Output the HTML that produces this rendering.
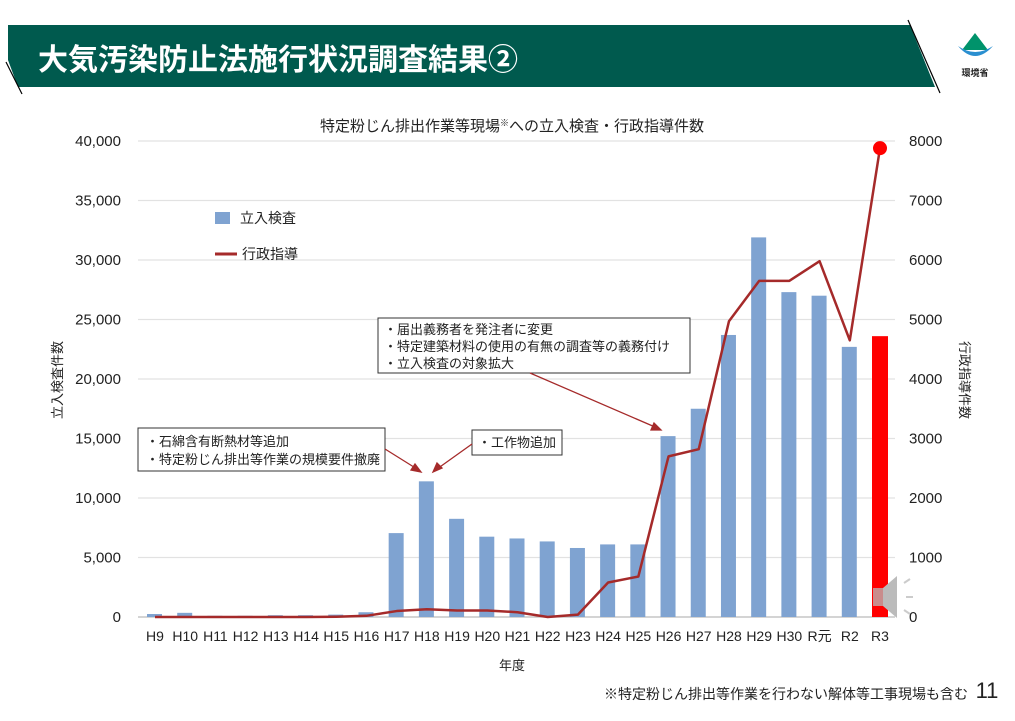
<!DOCTYPE html>
<html><head><meta charset="utf-8">
<style>
body{margin:0;width:1015px;height:716px;background:#fff;overflow:hidden;font-family:"Liberation Sans","Noto Sans CJK JP",sans-serif;}
svg text{font-family:"Liberation Sans","Noto Sans CJK JP",sans-serif;}
</style></head><body>
<svg width="1015" height="716" viewBox="0 0 1015 716">
<g>
<polygon points="8,25 910,25 935,87 18,87 8,60" fill="#005a4e"/>
<line x1="908" y1="20" x2="940" y2="93" stroke="#000" stroke-width="1.2"/>
<line x1="6" y1="62" x2="22" y2="94" stroke="#000" stroke-width="1.2"/>
<text x="38" y="70" font-size="30" font-weight="bold" fill="#fff">大気汚染防止法施行状況調査結果②</text>
</g>
<g>
<polygon points="975,33 988,50 962,50" fill="#00936b"/>
<path d="M958,46 Q975,58 993,46 Q975,66 958,46Z" fill="#2a8fd0"/>
<text x="975" y="76" font-size="9" font-weight="bold" text-anchor="middle" fill="#222">環境省</text>
</g>
<text x="512" y="131" font-size="15" text-anchor="middle" fill="#222">特定粉じん排出作業等現場<tspan font-size="9" dy="-5">※</tspan><tspan dy="5">への立入検査・行政指導件数</tspan></text>
<g id="grid"></g>
<g id="bars"></g>
<g id="line"></g>
<g id="axes"></g>
<text transform="translate(62,380) rotate(-90)" font-size="13" text-anchor="middle" fill="#222">立入検査件数</text>
<text transform="translate(960,380) rotate(90)" font-size="13" text-anchor="middle" fill="#222">行政指導件数</text>
<text x="512" y="670" font-size="13" text-anchor="middle" fill="#222">年度</text>
<g>
<rect x="215" y="212" width="15" height="12" fill="#7fa3d1"/>
<text x="240" y="223" font-size="14" fill="#222">立入検査</text>
<line x1="215" y1="254" x2="237" y2="254" stroke="#a52a2a" stroke-width="3"/>
<text x="242" y="259" font-size="14" fill="#222">行政指導</text>
</g>
<g font-size="13" fill="#222">
<rect x="138" y="428" width="247" height="43" fill="#fff" stroke="#333"/>
<text x="146" y="446">・石綿含有断熱材等追加</text>
<text x="146" y="464">・特定粉じん排出等作業の規模要件撤廃</text>
<rect x="472" y="430" width="90" height="25" fill="#fff" stroke="#333"/>
<text x="478" y="447">・工作物追加</text>
<rect x="378" y="318" width="312" height="55" fill="#fff" stroke="#333"/>
<text x="384" y="334">・届出義務者を発注者に変更</text>
<text x="384" y="351">・特定建築材料の使用の有無の調査等の義務付け</text>
<text x="384" y="368">・立入検査の対象拡大</text>
<g stroke="#a52a2a" stroke-width="1.3" fill="#a52a2a">
<line x1="385" y1="449" x2="417" y2="469"/><polygon points="421,472 411,470 415,464"/>
<line x1="472" y1="444" x2="437" y2="469"/><polygon points="433,472 437,463 442,468"/>
<line x1="530" y1="373" x2="655" y2="427"/><polygon points="661,430 651,430 654,423"/>
</g>
</g>
<g>
<rect x="873" y="588" width="10" height="18" fill="#c98c8c"/>
<polygon points="883,588 897,576 897,618 883,606" fill="#bbb"/>
<path d="M904,583 l6,-4 M906,597 l7,0 M904,610 l6,4" stroke="#ccc" stroke-width="2"/>
</g>
<text x="968" y="699" font-size="14" text-anchor="end" fill="#222">※特定粉じん排出等作業を行わない解体等工事現場も含む</text>
<text x="987" y="698" font-size="22" text-anchor="middle" fill="#222">11</text>
</svg>
<script>
const categories=["H9","H10","H11","H12","H13","H14","H15","H16","H17","H18","H19","H20","H21","H22","H23","H24","H25","H26","H27","H28","H29","H30","R元","R2","R3"];
const inspections=[250,350,100,100,150,150,200,400,7050,11400,8250,6750,6600,6350,5800,6100,6100,15200,17500,23700,31900,27300,27000,22700,23600];
const guidance=[0,0,0,0,0,0,5,20,100,130,110,110,80,0,40,580,680,2700,2820,4970,5650,5650,5980,4650,7880];
const leftTicks=[0,5000,10000,15000,20000,25000,30000,35000,40000];
const rightTicks=[0,1000,2000,3000,4000,5000,6000,7000,8000];
const NS="http://www.w3.org/2000/svg";
const x0=155,x1=880,yb=617,yt=141;
const xs=i=>x0+(x1-x0)*i/(categories.length-1);
const yL=v=>yb-(yb-yt)*v/40000;
const yR=v=>yb-(yb-yt)*v/8000;
function mk(t,a,p){const e=document.createElementNS(NS,t);for(const k in a)e.setAttribute(k,a[k]);p.appendChild(e);return e;}
const grid=document.getElementById('grid'),bars=document.getElementById('bars'),line=document.getElementById('line'),axes=document.getElementById('axes');
leftTicks.forEach((v,i)=>{
 const g=mk('line',{x1:138,x2:895,y1:yL(v),y2:yL(v),stroke:i==0?'#bbb':'#e2e2e2','stroke-width':1.3},grid);
 
 
 const t=mk('text',{x:121,y:yL(v)+5,'font-size':15,'text-anchor':'end',fill:'#222'},axes);
 t.textContent=v.toLocaleString('en-US');
 
 
});
rightTicks.forEach(v=>{
 const t=mk('text',{x:909,y:yR(v)+5,'font-size':15,fill:'#222'},axes);
 t.textContent=v;
 
 
});
categories.forEach((c,i)=>{
 const v=inspections[i],last=i==categories.length-1;
 const r=mk('rect',{x:xs(i)-8,y:yL(v),width:last?16:15,height:yb-yL(v),fill:last?'#ff0000':'#7fa3d1'},bars);
 
 
 const t=mk('text',{x:xs(i),y:641,'font-size':14,'text-anchor':'middle',fill:'#222'},axes);
 t.textContent=c;
 
 
});
const pts=guidance.map((v,i)=>xs(i)+','+yR(v)).join(' ');
const pl=mk('polyline',{points:pts,fill:'none',stroke:'#a52a2a','stroke-width':2.5,'stroke-linejoin':'round'},line);


const n=guidance.length-1;
const dot=mk('circle',{cx:xs(n),cy:yR(guidance[n]),r:7,fill:'#ff0000'},line);


</script>
</body></html>
